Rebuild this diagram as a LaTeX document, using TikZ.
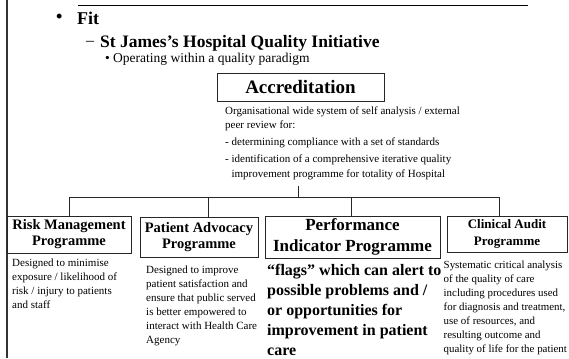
\documentclass[tikz,border=0pt]{standalone}
\usepackage{fontspec}
\setmainfont{Liberation Serif}
\begin{document}
\begin{tikzpicture}[x=1pt,y=-1pt,
  boxed/.style={draw=black!85, line width=0.8pt, inner sep=0pt, align=center},
  wire/.style={draw=black!85, line width=0.8pt},
  line/.style={inner sep=0pt, anchor=west},
  body/.style={inner sep=0pt, align=left, anchor=north west, font=\fontsize{11}{14}\selectfont}]
\useasboundingbox (0,0) rectangle (569,358);

% frame rules
\coordinate (ruleL) at (78,5);
\coordinate (ruleR) at (528,5);
\coordinate (sideT) at (7,0);
\coordinate (sideB) at (7,358);
\draw[line width=0.8pt] (ruleL) -- (ruleR);
\draw[draw=black!80, line width=1.3pt] (sideT) -- (sideB);

% outline levels
\node[line, font=\fontsize{18}{20}\selectfont\bfseries] (fitdot) at (56,18) {\textbullet};
\node[line, font=\fontsize{18}{20}\selectfont\bfseries] (fit) at (77,18) {Fit};
\node[line, font=\fontsize{16}{20}\selectfont] (sjdash) at (86,43) {–};
\node[line, font=\fontsize{17.5}{20}\selectfont\bfseries] (sj) at (100,43) {St James’s Hospital Quality Initiative};
\node[line, font=\fontsize{13.5}{16}\selectfont] (opdot) at (105,59) {\textbullet};
\node[line, font=\fontsize{13.5}{16}\selectfont] (op) at (113,59) {Operating within a quality paradigm};

% accreditation
\node[boxed, minimum width=167, minimum height=28, font=\fontsize{19}{22}\selectfont\bfseries] (acc) at (300.5,87) {Accreditation};
\node[body, font=\fontsize{11}{14.5}\selectfont] (acctext) at (225,106.5) {Organisational wide system of self analysis / external\\
peer review for:\\[2.5pt]
- determining compliance with a set of standards\\[2.5pt]
- identification of a comprehensive iterative quality\\
\phantom{- }improvement programme for totality of Hospital};

% programme boxes
\node[boxed, minimum width=124, minimum height=37, font=\fontsize{14.5}{16}\selectfont\bfseries] (risk) at (69,234.5) {Risk Management\\Programme};
\node[boxed, minimum width=118, minimum height=40, font=\fontsize{14.5}{16}\selectfont\bfseries] (pat) at (199,237) {Patient Advocacy\\Programme};
\node[boxed, minimum width=175, minimum height=42, font=\fontsize{17}{21}\selectfont\bfseries] (perf) at (352.5,237) {Performance\\Indicator Programme};
\node[boxed, minimum width=120, minimum height=36, font=\fontsize{13}{17}\selectfont\bfseries] (clin) at (507,234) {Clinical Audit\\Programme};

% connectors
\coordinate (accfoot) at (298,186);
\coordinate (split) at (298,197);
\coordinate (busL) at (69,197);
\coordinate (dropP) at (208,197);
\coordinate (dropI) at (351,197);
\coordinate (busR) at (499,197);
\draw[wire] (accfoot) -- (split);
\draw[wire] (busL) -- (busR);
\draw[wire] (busL) -- (risk.north);
\draw[wire] (dropP) -- (dropP |- pat.north);
\draw[wire] (dropI) -- (dropI |- perf.north);
\draw[wire] (busR) -- (busR |- clin.north);

% descriptions
\node[body] (risktext) at (12,258.5) {Designed to minimise\\
exposure / likelihood of\\
risk / injury to patients\\
and staff};
\node[body] (pattext) at (146,265.5) {Designed to improve\\
patient satisfaction and\\
ensure that public served\\
is better empowered to\\
interact with Health Care\\
Agency};
\node[body, font=\fontsize{16}{20}\selectfont\bfseries] (perftext) at (267,264.5) {“flags” which can alert to\\
possible problems and /\\
or opportunities for\\
improvement in patient\\
care};
\node[body, font=\fontsize{10.9}{14}\selectfont] (clintext) at (443.5,260.5) {Systematic critical analysis\\
of the quality of care\\
including procedures used\\
for diagnosis and treatment,\\
use of resources, and\\
resulting outcome and\\
quality of life for the patient};
\end{tikzpicture}
\end{document}
